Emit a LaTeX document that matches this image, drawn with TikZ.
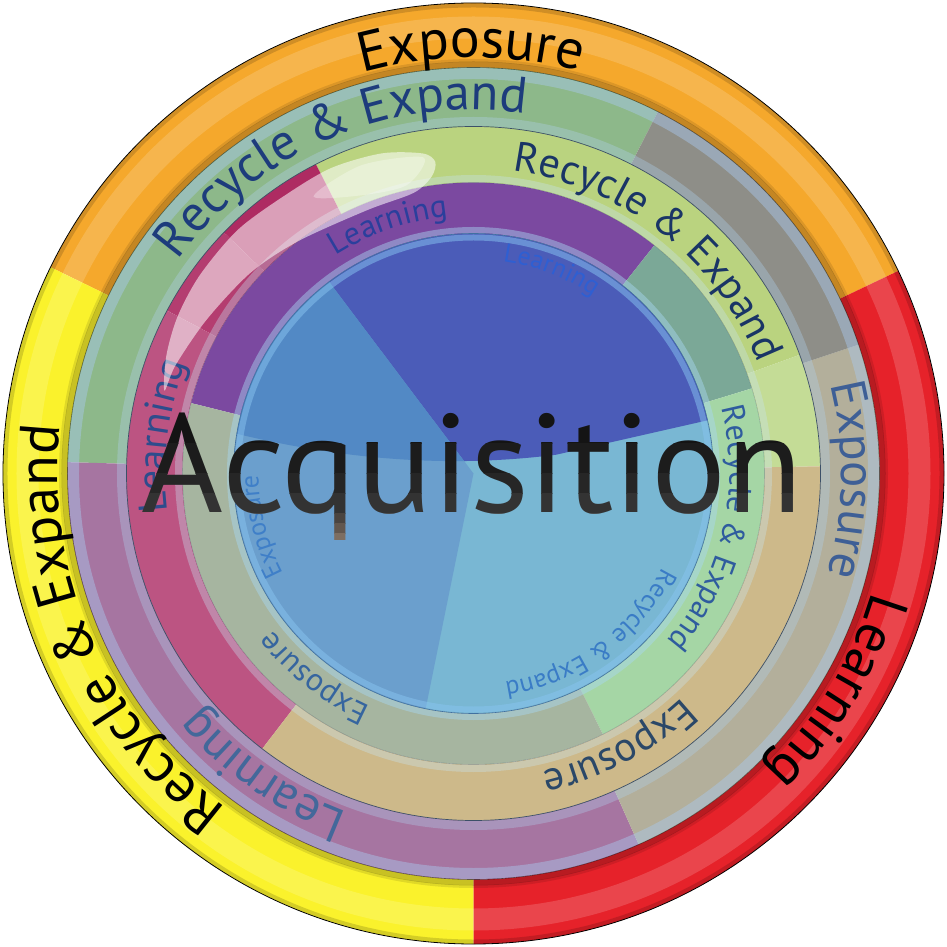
\documentclass[tikz,border=0pt]{standalone}
\usepackage{fontspec}
\setmainfont{PT Sans}
\newfontfamily\labfont{PT Sans}
\usetikzlibrary{decorations.text}
\definecolor{oOrange}{HTML}{F5A82C}
\definecolor{oYellow}{HTML}{FAF22C}
\definecolor{oRed}{HTML}{E6222A}
\definecolor{bGreen}{HTML}{8DB88A}
\definecolor{bGray}{HTML}{8E8E88}
\definecolor{bTan}{HTML}{B3AF9B}
\definecolor{bMauve}{HTML}{A675A1}
\definecolor{cYGreen}{HTML}{BAD37F}
\definecolor{cYGreenL}{HTML}{C4DC96}
\definecolor{cTan}{HTML}{CDB98A}
\definecolor{cPink}{HTML}{BC5482}
\definecolor{cPinkD}{HTML}{B43D70}
\definecolor{cCrimson}{HTML}{AE2B62}
\definecolor{dPurple}{HTML}{7B49A0}
\definecolor{dTeal}{HTML}{7BA897}
\definecolor{dLGreen}{HTML}{A5D6A5}
\definecolor{dKhaki}{HTML}{A6B5A0}
\definecolor{eIndigo}{HTML}{4B5CB8}
\definecolor{eLeftUp}{HTML}{5289C5}
\definecolor{eLeftLow}{HTML}{6B9FCD}
\definecolor{eTeal}{HTML}{79B7D3}
\definecolor{tNavy}{HTML}{1D3C7C}
\definecolor{tExpB}{HTML}{3E5F96}
\definecolor{tLearnB}{HTML}{43689A}
\definecolor{tRecC}{HTML}{1A3566}
\definecolor{tExpC}{HTML}{2B4868}
\definecolor{tLearnC}{HTML}{2E4C8C}
\definecolor{tLearnD}{HTML}{2B3F9C}
\definecolor{tRecD}{HTML}{2F5C9E}
\definecolor{tExpD}{HTML}{36659F}
\definecolor{tLearnE}{HTML}{2F5FD2}
\definecolor{tRecE}{HTML}{3A7CC6}
\definecolor{tExpE}{HTML}{3F7FC8}
\definecolor{rimA}{HTML}{A9C9EE}
\definecolor{rimB}{HTML}{B0D0EE}
\definecolor{rimC}{HTML}{C8E4F4}
\definecolor{rimD}{HTML}{A8D8F4}
\definecolor{rimE}{HTML}{88C4F0}
\definecolor{lineB}{HTML}{3C5068}
\definecolor{lineE}{HTML}{4070A0}
\definecolor{aq1}{HTML}{141414}
\definecolor{aq2}{HTML}{1C1C1C}
\definecolor{aq3}{HTML}{262626}
\definecolor{aq4}{HTML}{333333}
\definecolor{aq5}{HTML}{4A4440}
\definecolor{aq6}{HTML}{62574F}
\definecolor{aq7}{HTML}{7D6E62}
\newcommand\annseg[5]{\fill[#1] (#4:#3) arc[start angle=#4,end angle=#5,radius=#3] -- (#5:#2) arc[start angle=#5,end angle=#4,radius=#2] -- cycle;}
\newcommand\arctext[5]{\path[decorate,decoration={text along path,text align=center,text={|\labfont\fontsize{#3}{#3}\selectfont\color{#4}|#5}}] (#2+90:#1) arc[start angle=#2+90,end angle=#2-90,radius=#1];}
\begin{document}
\begin{tikzpicture}[x=1pt,y=1pt]
\fill[white] (-473.5,-473.5) rectangle (473.5,473.5);
\path[use as bounding box] (-473.5,-473.5) rectangle (473.5,473.5);
% outer ring
\annseg{oOrange}{406}{470.5}{25.5}{154}
\annseg{oYellow}{406}{470.5}{154}{270}
\annseg{oRed}{406}{470.5}{-90}{25.5}
\draw[white,opacity=.16,line width=22] (0,0) circle[radius=446];
\draw[black,opacity=.2,line width=6] (0,0) circle[radius=409];
\draw[black,opacity=.1,line width=3] (0,0) circle[radius=413];
\draw[black,opacity=.15,line width=4] (0,0) circle[radius=468];
% ring 2
\annseg{bGreen}{347}{406}{63}{178.4}
\annseg{bMauve}{347}{406}{178.4}{294}
\annseg{bTan}{347}{406}{-66}{18.5}
\annseg{bGray}{347}{406}{18.5}{63}
% ring 3
\annseg{cYGreen}{291}{347}{20}{117}
\annseg{cYGreenL}{291}{347}{1.2}{20}
\annseg{cCrimson}{291}{347}{117}{136}
\annseg{cPinkD}{291}{347}{136}{152}
\annseg{cPink}{291}{347}{152}{232.5}
\annseg{cTan}{291}{347}{-127.5}{1.2}
% ring 4
\annseg{dPurple}{240}{291}{51.6}{166}
\annseg{dTeal}{240}{291}{17}{51.6}
\annseg{dLGreen}{240}{291}{-63.6}{17}
\annseg{dKhaki}{240}{291}{166}{296.4}
% central disk
\begin{scope}
\clip (0,0) circle[radius=240];
\fill[eTeal] (0,0) circle[radius=240];
\fill[eLeftLow] (0,0) -- (127:250) arc[start angle=127,end angle=258.5,radius=250] -- cycle;
\begin{scope}
\clip (-250,43) .. controls (-80,0) and (80,0) .. (250,58) -- (250,250) -- (-250,250) -- cycle;
\fill[eIndigo] (0,0) -- (12.8:250) arc[start angle=12.8,end angle=127,radius=250] -- cycle;
\fill[eLeftUp] (0,0) -- (127:250) arc[start angle=127,end angle=258.5,radius=250] -- cycle;
\end{scope}
\end{scope}
% glass rims
\draw[rimA,opacity=.45,line width=11] (0,0) circle[radius=400];
\draw[rimB,opacity=.35,line width=9] (0,0) circle[radius=352];
\draw[rimC,opacity=.35,line width=7] (0,0) circle[radius=295];
\draw[rimD,opacity=.45,line width=6] (0,0) circle[radius=243.5];
\draw[rimE,opacity=.5,line width=6] (0,0) circle[radius=236];
% thin lines
\draw[black,line width=.8] (0,0) circle[radius=470.5];
\draw[black,opacity=.5,line width=.6] (0,0) circle[radius=406];
\draw[lineB,line width=.7] (0,0) circle[radius=347];
\draw[lineB,opacity=.3,line width=.6] (0,0) circle[radius=291];
\draw[lineE,line width=.6] (0,0) circle[radius=240];
% texts
\arctext{416}{90.3}{56}{black}{Exposure}
\arctext{416}{-31}{56}{black}{Learning}
\arctext{416}{203.5}{56}{black}{Recycle {\&} Expand}
\arctext{364}{113}{51}{tNavy}{Recycle {\&} Expand}
\arctext{368}{-1}{49}{tExpB}{Exposure}
\arctext{361}{235}{49}{tLearnB}{Learning}
\arctext{305}{52}{42}{tRecC}{Recycle {\&} Expand}
\arctext{306}{-62}{41}{tExpC}{Exposure}
\arctext{308}{173}{40}{tLearnC}{Learning}
\arctext{258}{109}{32}{tLearnD}{Learning}
\arctext{256}{-13}{32}{tRecD}{Recycle {\&} Expand}
\arctext{255}{232}{32}{tExpD}{Exposure}
\arctext{214}{69}{26}{tLearnE}{Learning}
\arctext{211}{-54}{26}{tRecE}{Recycle {\&} Expand}
\arctext{215}{194}{26}{tExpE}{Exposure}
% glossy highlight
\fill[white,opacity=.55] plot[smooth cycle] coordinates {(99:324) (106:333) (115:337) (124:336) (134:339) (144:338) (152:335) (159:329) (165:320) (160:317) (150:308) (138:300) (127:291) (112:284) (102:287) (98:300) (97:314)};
\fill[white,opacity=.3] plot[smooth cycle] coordinates {(99:320) (110:328) (120:320) (112:300) (103:296)};
% Acquisition
\foreach \ya/\yb/\cc [count=\k] in {130/30/aq1,30/0/aq2,0/-20/aq3,-20/-40/aq4,-40/-50/aq5,-50/-60/aq6,-60/-90/aq7}{
\begin{scope}
\clip (-480,\yb) rectangle (480,\ya);
\node[anchor=base,inner sep=0,text=\cc,font=\labfont\fontsize{140}{140}\selectfont] (acq\k) at (-1,-39.5) {Acquisition};
\end{scope}}
\end{tikzpicture}
\end{document}
